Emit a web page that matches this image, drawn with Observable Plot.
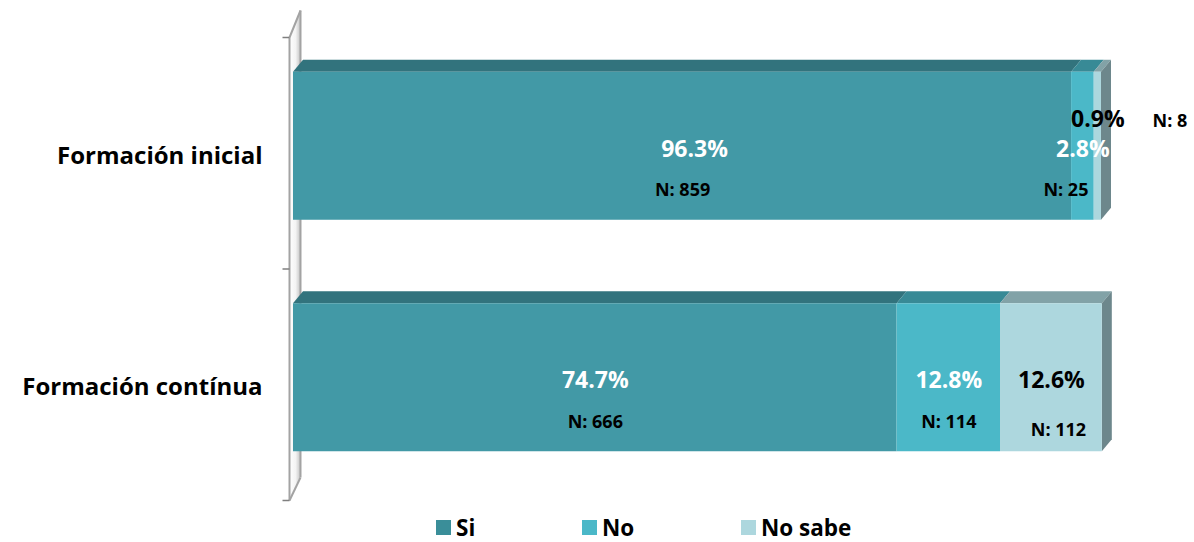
<!DOCTYPE html>
<html>
<head>
<meta charset="utf-8">
<script src="https://cdn.jsdelivr.net/npm/d3@7"></script>
<script src="https://cdn.jsdelivr.net/npm/@observablehq/plot@0.6"></script>
<style>
  html, body { margin: 0; padding: 0; background: #ffffff; }
  body { width: 1194px; height: 542px; overflow: hidden; font-family: "Open Sans", Lato, sans-serif; }
  #legend { position: relative; width: 1194px; height: 32px; font-weight: bold; font-size: 22.5px; color: #000; }
  .item { position: absolute; top: 3px; display: flex; align-items: center; height: 28px; }
  .sw { width: 15px; height: 15px; margin-right: 5px; }
</style>
</head>
<body>
<div id="chart"></div>
<div id="legend"></div>
<script>
// ---- data ----
const categories = ["Formación inicial", "Formación contínua"];
const responses = ["Si", "No", "No sabe"];
const inicialPct = [96.3, 2.8, 0.9];
const inicialN = [859, 25, 8];
const continuaPct = [74.7, 12.8, 12.6];
const continuaN = [666, 114, 112];
const colors = ["#4299A6", "#4BB8C8", "#ADD7DE"];
const legendColors = ["#3A8E99", "#4BB8C8", "#ADD7DE"];

// ---- build table ----
const pctRows = [inicialPct, continuaPct];
const nRows = [inicialN, continuaN];
const rows = [];
categories.forEach((cat, i) => {
  let s = 0;
  responses.forEach((resp, j) => {
    const pct = pctRows[i][j];
    rows.push({cat, i, j, resp, pct, n: nRows[i][j], s, e: s + pct, last: j === responses.length - 1});
    s += pct;
  });
});

// ---- geometry helpers (pixel -> data units) ----
const W = 1194, H = 510;
const mL = 293, mR = 93, mT = 30, mB = 17;
const pxX = 100 / (W - mL - mR);
const pxY = 2 / (H - mT - mB);
const ux = p => p * pxX, uy = p => p * pxY;
const half = uy(74);            // half bar thickness
const DX = ux(10), DY = uy(12); // 3D depth

const topFace = rows.flatMap(r => {
  const f = d3.color(colors[r.j]).darker(0.8).formatHex();
  return [
    {key: r.i + "-" + r.j, y: r.i - half, x1: r.s, x2: r.e, fill: f},
    {key: r.i + "-" + r.j, y: r.i - half - DY, x1: r.s + DX, x2: r.e + DX, fill: f}
  ];
});
const sideFace = rows.filter(r => r.last).flatMap(r => {
  const f = d3.color(colors[r.j]).darker(1.3).formatHex();
  return [
    {key: r.i, x: r.e, y1: r.i - half, y2: r.i + half, fill: f},
    {key: r.i, x: r.e + DX, y1: r.i - half - DY, y2: r.i + half - DY, fill: f}
  ];
});

// label placement
function pctPos(r) {
  const mid = (r.s + r.e) / 2;
  if (r.pct < 2) return {x: mid, y: r.i + uy(-27)};
  if (r.j === 0 && r.i === 0) return {x: mid + ux(12), y: r.i + uy(3)};
  return {x: mid, y: r.i + uy(3)};
}
function nPos(r) {
  const mid = (r.s + r.e) / 2;
  if (r.pct < 2) return {x: mid + ux(72), y: r.i + uy(-25)};
  if (r.pct < 5) return {x: mid + ux(-17), y: r.i + uy(44)};
  if (r.last) return {x: mid + ux(7), y: r.i + uy(52)};
  return {x: mid, y: r.i + uy(44)};
}

// wall geometry
const wFrontTop = -0.5 + uy(7), wFrontBot = 1.5 + uy(7);
const wBackTop = -0.5 - uy(20), wBackBot = 1.5 - uy(16);
const wallBack = ux(11);
const wallArea = [
  {x: 0, y1: wFrontTop, y2: wFrontBot},
  {x: wallBack, y1: wBackTop, y2: wBackBot}
];
const wallTicks = [-0.5, 0.5, 1.5].map(v => ({y: v + uy(7)}));
const gray = "#a3a3a3";
const font = "'Open Sans', Lato, sans-serif";

const plot = Plot.plot({
  width: W, height: H,
  marginLeft: mL, marginRight: mR, marginTop: mT, marginBottom: mB,
  x: {domain: [0, 100], axis: null},
  y: {domain: [1.5, -0.5], axis: null},
  color: {type: "identity"},
  style: {fontFamily: font, background: "#ffffff", overflow: "visible"},
  marks: [
    // wall
    Plot.areaY(wallArea, {x: "x", y1: "y1", y2: "y2", fill: "url(#wallGrad)", dx: -4}),
    Plot.link([wallArea[0]], {x1: 0, x2: 0, y1: "y1", y2: "y2", stroke: gray, strokeWidth: 2, dx: -4}),
    Plot.link([wallArea[1]], {x1: "x", x2: "x", y1: "y1", y2: "y2", stroke: gray, strokeWidth: 2, dx: -4}),
    Plot.link([0], {x1: 0, y1: wFrontTop, x2: wallBack, y2: wBackTop, stroke: gray, strokeWidth: 2, dx: -4}),
    Plot.link([0], {x1: 0, y1: wFrontBot, x2: wallBack, y2: wBackBot, stroke: gray, strokeWidth: 2, dx: -4}),
    Plot.link(wallTicks, {x1: ux(-7), x2: 0, y1: "y", y2: "y", stroke: "#7f7f7f", strokeWidth: 1.5, dx: -4}),
    // bars: top faces, side faces, front faces
    Plot.areaX(topFace, {y: "y", x1: "x1", x2: "x2", z: "key", fill: "fill"}),
    Plot.areaY(sideFace, {x: "x", y1: "y1", y2: "y2", z: "key", fill: "fill"}),
    Plot.rect(rows, {x1: "s", x2: "e", y1: r => r.i - half, y2: r => r.i + half, fill: r => colors[r.j]}),
    // category labels
    Plot.text(categories, {x: 0, y: (d, i) => i, text: d => d, textAnchor: "end", dx: -31, dy: 10,
      fontSize: 24, fontWeight: "bold", fill: "#000"}),
    // percent labels
    Plot.text(rows, {x: r => pctPos(r).x, y: r => pctPos(r).y, text: r => r.pct.toFixed(1) + "%",
      fill: r => r.last ? "#000000" : "#ffffff", fontSize: 23, fontWeight: "bold"}),
    // N labels
    Plot.text(rows, {x: r => nPos(r).x, y: r => nPos(r).y, text: r => "N: " + r.n,
      fill: "#000000", fontSize: 18, fontWeight: "bold"})
  ]
});

// gradient for the wall
const defs = document.createElementNS("http://www.w3.org/2000/svg", "defs");
defs.innerHTML = '<linearGradient id="wallGrad" x1="0" x2="1" y1="0" y2="0">' +
  '<stop offset="0" stop-color="#ffffff"/><stop offset="0.6" stop-color="#f4f4f4"/><stop offset="1" stop-color="#c8c8c8"/></linearGradient>';
plot.insertBefore(defs, plot.firstChild);
document.getElementById("chart").appendChild(plot);

// legend
const legendLeft = [436, 582, 741];
const legend = document.getElementById("legend");
responses.forEach((r, j) => {
  const it = document.createElement("div");
  it.className = "item";
  it.style.left = legendLeft[j] + "px";
  it.innerHTML = `<span class="sw" style="background:${legendColors[j]}"></span><span>${r}</span>`;
  legend.appendChild(it);
});
</script>
</body>
</html>
